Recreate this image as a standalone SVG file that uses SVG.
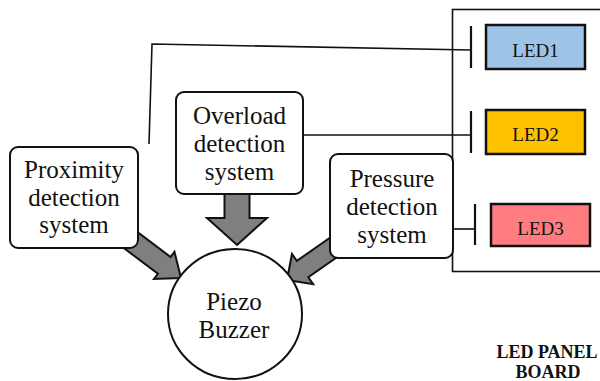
<svg xmlns="http://www.w3.org/2000/svg" width="600" height="381" viewBox="0 0 600 381" font-family="'Liberation Serif', 'Times New Roman', serif">
  <defs>
    <style>
      .box { fill: #ffffff; stroke: #111111; stroke-width: 2; }
      .lbl { font-size: 25px; fill: #111111; text-anchor: middle; }
      .led { stroke: #111111; stroke-width: 2.5; }
      .ledtxt { font-size: 19px; fill: #111111; text-anchor: middle; }
      .wire { fill: none; stroke: #111111; stroke-width: 1.6; }
      .tee { fill: none; stroke: #111111; stroke-width: 2.2; }
      .fat { fill: #7f7f7f; stroke: #111111; stroke-width: 2; stroke-linejoin: miter; }
      .title { font-size: 18px; font-weight: bold; fill: #111111; text-anchor: middle; }
    </style>
  </defs>

  <!-- LED panel board outline (runs off the right edge) -->
  <g id="led-panel">
    <rect x="452.5" y="9.5" width="160" height="262" fill="none" stroke="#111111" stroke-width="1.6"/>
    <text class="title" x="547" y="358" font-family="Liberation Serif, serif">LED PANEL</text>
    <text class="title" x="548" y="378" font-family="Liberation Serif, serif">BOARD</text>
  </g>

  <!-- connectors: thick block arrows into the buzzer, wires to the LEDs -->
  <g id="connectors">
    <path class="fat" transform="translate(237,245) rotate(90)" d="M0,0 L-27,-30 L-27,-12.5 L-60,-12.5 L-60,12.5 L-27,12.5 L-27,30 Z"/>
    <path class="fat" transform="translate(181,278) rotate(37)" d="M0,0 L-21,-17 L-21,-10.5 L-80,-10.5 L-80,10.5 L-21,10.5 L-21,17 Z"/>
    <path class="fat" transform="translate(287,280) rotate(145)" d="M0,0 L-19,-18.5 L-19,-10 L-75,-10 L-75,10 L-19,10 L-19,18.5 Z"/>

    <polyline class="wire" points="149,144 152,44 471,50"/>
    <line class="tee" x1="471" y1="26" x2="471" y2="68"/>
    <line class="wire" x1="303" y1="135" x2="471" y2="135"/>
    <line class="tee" x1="471" y1="111" x2="471" y2="153"/>
    <line class="wire" x1="445" y1="229" x2="475" y2="229"/>
    <line class="tee" x1="475" y1="204" x2="475" y2="245"/>
  </g>

  <g id="proximity">
    <rect class="box" x="10" y="147" width="128" height="101" rx="8"/>
    <g font-family="Liberation Serif, serif">
      <text class="lbl" x="74" y="178">Proximity</text>
      <text class="lbl" x="74" y="206">detection</text>
      <text class="lbl" x="74" y="233">system</text>
    </g>
  </g>

  <g id="overload">
    <rect class="box" x="176" y="92" width="127" height="102" rx="8"/>
    <g font-family="Liberation Serif, serif">
      <text class="lbl" x="239.5" y="124">Overload</text>
      <text class="lbl" x="239.5" y="152">detection</text>
      <text class="lbl" x="239.5" y="180">system</text>
    </g>
  </g>

  <g id="pressure">
    <rect class="box" x="330" y="154" width="123" height="104" rx="8"/>
    <g font-family="Liberation Serif, serif">
      <text class="lbl" x="392" y="187">Pressure</text>
      <text class="lbl" x="392" y="215">detection</text>
      <text class="lbl" x="392" y="243">system</text>
    </g>
  </g>

  <g id="buzzer">
    <ellipse cx="235" cy="314" rx="67" ry="65" fill="#ffffff" stroke="#111111" stroke-width="2"/>
    <g font-family="Liberation Serif, serif">
      <text class="lbl" x="234" y="310">Piezo</text>
      <text class="lbl" x="234" y="338">Buzzer</text>
    </g>
  </g>

  <g id="led1">
    <rect class="led" x="486" y="25" width="99" height="44" fill="#9dc3e6"/>
    <text class="ledtxt" x="535.5" y="57" font-family="Liberation Serif, serif">LED1</text>
  </g>
  <g id="led2">
    <rect class="led" x="486" y="110" width="99" height="44" fill="#ffc000"/>
    <text class="ledtxt" x="535.5" y="141" font-family="Liberation Serif, serif">LED2</text>
  </g>
  <g id="led3">
    <rect class="led" x="491" y="204" width="99" height="42" fill="#ff7c80"/>
    <text class="ledtxt" x="540.5" y="235" font-family="Liberation Serif, serif">LED3</text>
  </g>
</svg>
